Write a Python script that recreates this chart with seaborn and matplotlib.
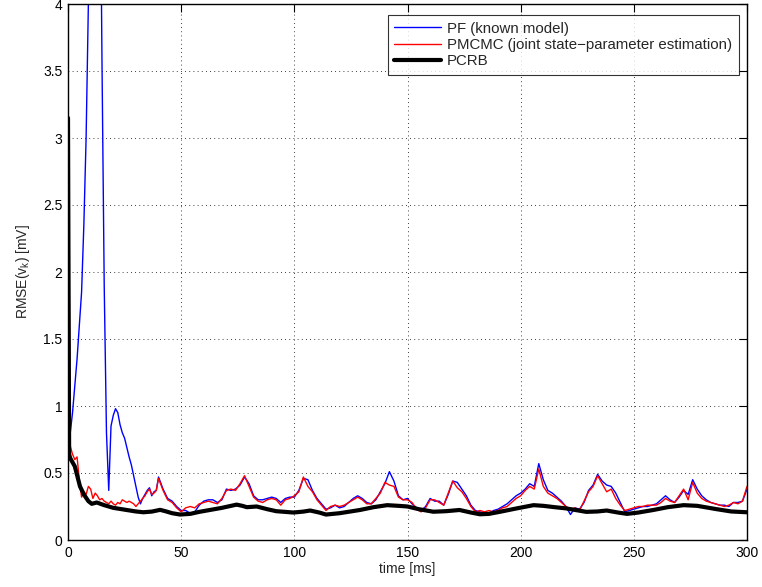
import numpy as np
import pandas as pd
import matplotlib
matplotlib.use("Agg")
import matplotlib.pyplot as plt
import seaborn as sns

# ---------------- data ----------------
time_early = list(range(0, 41))            # 0..40 ms, 1 ms steps
time_late = list(range(42, 301, 2))        # 42..300 ms, 2 ms steps
time_ms = time_early + time_late

pf_early = [0.62, 0.80, 0.95, 1.15, 1.35, 1.60, 1.85, 2.35, 3.00, 4.00,
            5.00, 6.00, 6.50, 6.30, 5.60, 3.60, 1.90, 0.80, 0.37, 0.85,
            0.93, 0.98, 0.95, 0.86, 0.80, 0.76, 0.69, 0.62, 0.56, 0.48,
            0.40, 0.32, 0.27, 0.31, 0.34, 0.37, 0.39, 0.33, 0.36, 0.37,
            0.47]
pf_late = [0.38, 0.31, 0.29, 0.25, 0.22, 0.22, 0.20, 0.21, 0.26, 0.29,
           0.30, 0.30, 0.28, 0.30, 0.38, 0.37, 0.38, 0.41, 0.47, 0.42,
           0.33, 0.30, 0.30, 0.31, 0.32, 0.31, 0.28, 0.31, 0.32, 0.32,
           0.37, 0.46, 0.45, 0.37, 0.31, 0.27, 0.23, 0.24, 0.26, 0.24,
           0.25, 0.28, 0.31, 0.33, 0.31, 0.28, 0.27, 0.30, 0.36, 0.42,
           0.51, 0.44, 0.33, 0.30, 0.31, 0.27, 0.24, 0.22, 0.25, 0.31,
           0.29, 0.29, 0.26, 0.34, 0.44, 0.43, 0.38, 0.33, 0.26, 0.22,
           0.21, 0.20, 0.20, 0.22, 0.23, 0.25, 0.27, 0.30, 0.33, 0.35,
           0.38, 0.42, 0.40, 0.57, 0.45, 0.37, 0.35, 0.32, 0.29, 0.25,
           0.19, 0.24, 0.23, 0.28, 0.37, 0.41, 0.49, 0.44, 0.41, 0.40,
           0.35, 0.28, 0.21, 0.22, 0.23, 0.24, 0.25, 0.25, 0.26, 0.27,
           0.30, 0.33, 0.30, 0.28, 0.32, 0.37, 0.34, 0.45, 0.38, 0.33,
           0.30, 0.28, 0.27, 0.26, 0.26, 0.25, 0.28, 0.28, 0.29, 0.38]

pmcmc_early = [3.45, 0.70, 0.64, 0.60, 0.62, 0.45, 0.32, 0.36, 0.34, 0.40,
               0.38, 0.31, 0.35, 0.33, 0.30, 0.31, 0.29, 0.28, 0.27, 0.29,
               0.27, 0.26, 0.28, 0.27, 0.30, 0.29, 0.28, 0.29, 0.28, 0.27,
               0.25, 0.27, 0.29, 0.31, 0.33, 0.36, 0.38, 0.34, 0.35, 0.37,
               0.46]
pmcmc_late = [0.37, 0.30, 0.28, 0.24, 0.21, 0.24, 0.25, 0.24, 0.27, 0.28,
              0.29, 0.28, 0.27, 0.31, 0.37, 0.38, 0.37, 0.42, 0.48, 0.40,
              0.32, 0.29, 0.28, 0.30, 0.31, 0.30, 0.26, 0.30, 0.31, 0.33,
              0.36, 0.47, 0.40, 0.36, 0.30, 0.26, 0.22, 0.25, 0.26, 0.25,
              0.26, 0.28, 0.30, 0.32, 0.30, 0.27, 0.27, 0.31, 0.35, 0.43,
              0.41, 0.40, 0.32, 0.30, 0.30, 0.28, 0.23, 0.21, 0.24, 0.30,
              0.30, 0.28, 0.26, 0.35, 0.44, 0.39, 0.36, 0.31, 0.25, 0.21,
              0.22, 0.21, 0.22, 0.21, 0.22, 0.24, 0.25, 0.28, 0.31, 0.33,
              0.37, 0.40, 0.38, 0.53, 0.40, 0.35, 0.33, 0.31, 0.28, 0.25,
              0.23, 0.24, 0.22, 0.29, 0.36, 0.40, 0.48, 0.42, 0.36, 0.38,
              0.31, 0.26, 0.22, 0.23, 0.24, 0.25, 0.25, 0.26, 0.26, 0.26,
              0.28, 0.31, 0.29, 0.28, 0.33, 0.38, 0.30, 0.43, 0.35, 0.31,
              0.29, 0.28, 0.27, 0.26, 0.25, 0.26, 0.28, 0.27, 0.29, 0.40]

pf_rmse = pf_early + pf_late
pmcmc_rmse = pmcmc_early + pmcmc_late

pcrb_time = [0, 0.5, 1, 3, 5.3, 7, 9, 10.5, 12.7, 16, 20, 25.9, 30, 33.3, 37,
             40.7, 43, 46, 49.5, 54, 58, 62.7, 68, 74.5, 77, 79, 83.4, 88, 92,
             99.6, 104, 107, 111, 114, 120, 129, 135, 141, 146, 150, 155,
             161.4, 167, 173, 178, 182, 186, 191, 198, 205.7, 210, 215, 220,
             229, 234, 238, 243, 247, 252, 258.6, 265, 272, 278, 286.6, 293,
             300]
pcrb = [3.15, 0.64, 0.61, 0.55, 0.40, 0.34, 0.29, 0.27, 0.28, 0.26, 0.24,
        0.224, 0.213, 0.207, 0.212, 0.225, 0.215, 0.20, 0.19, 0.195, 0.21,
        0.224, 0.24, 0.264, 0.255, 0.245, 0.25, 0.23, 0.215, 0.205, 0.212,
        0.22, 0.205, 0.19, 0.20, 0.224, 0.245, 0.26, 0.255, 0.25, 0.23,
        0.211, 0.215, 0.224, 0.205, 0.192, 0.195, 0.211, 0.235, 0.26, 0.255,
        0.245, 0.236, 0.21, 0.213, 0.22, 0.205, 0.195, 0.205, 0.224, 0.245,
        0.26, 0.255, 0.23, 0.213, 0.207]

x_ticks = [0, 50, 100, 150, 200, 250, 300]
y_ticks = [0, 0.5, 1, 1.5, 2, 2.5, 3, 3.5, 4]
y_tick_labels = ["0", "0.5", "1", "1.5", "2", "2.5", "3", "3.5", "4"]
label_pf = "PF (known model)"
label_pmcmc = "PMCMC (joint state\u2212parameter estimation)"
label_pcrb = "PCRB"

# ---------------- plot ----------------
sns.set_style("white")
plt.rcParams["font.family"] = ["Liberation Sans", "DejaVu Sans"]
plt.rcParams["mathtext.fontset"] = "custom"
plt.rcParams["mathtext.rm"] = "Liberation Sans"
plt.rcParams["mathtext.it"] = "Liberation Sans"

fig = plt.figure(figsize=(7.62, 5.87), dpi=100)
ax = fig.add_axes([68 / 762, 47 / 587, 679 / 762, 536 / 587])

df_pf = pd.DataFrame({"t": time_ms, "v": pf_rmse})
df_pm = pd.DataFrame({"t": time_ms, "v": pmcmc_rmse})
df_cr = pd.DataFrame({"t": pcrb_time, "v": pcrb})

sns.lineplot(data=df_pf, x="t", y="v", ax=ax, color="#0000ff", lw=1.0,
             label=label_pf, sort=False, estimator=None)
sns.lineplot(data=df_pm, x="t", y="v", ax=ax, color="#ff0000", lw=1.0,
             label=label_pmcmc, sort=False, estimator=None)
sns.lineplot(data=df_cr, x="t", y="v", ax=ax, color="black", lw=3.0,
             label=label_pcrb, sort=False, estimator=None)

ax.set_xlim(0, 300)
ax.set_ylim(0, 4)
ax.set_xticks(x_ticks)
ax.set_xticklabels([str(v) for v in x_ticks])
ax.set_yticks(y_ticks)
ax.set_yticklabels(y_tick_labels)
ax.tick_params(direction="in", length=6, width=0.8, top=True, right=True,
               labelsize=10, colors="black", pad=4)
for s in ax.spines.values():
    s.set_visible(True)
    s.set_color("black")
    s.set_linewidth(1.0)
ax.grid(True, color="black", linestyle=(0, (1, 4)), linewidth=0.6)

ax.set_xlabel("time [ms]", fontsize=10, labelpad=2)
ax.set_ylabel("RMSE(v$_k$) [mV]", fontsize=10, labelpad=8)

leg = ax.legend(loc="upper right", bbox_to_anchor=(0.988, 0.9795),
                fontsize=10.8, frameon=True, fancybox=False,
                edgecolor="black", handlelength=3.1, borderpad=0.45,
                labelspacing=0.15, handletextpad=0.4, borderaxespad=0.0)
leg.get_frame().set_linewidth(0.8)

fig.savefig("out.png", dpi=100)
